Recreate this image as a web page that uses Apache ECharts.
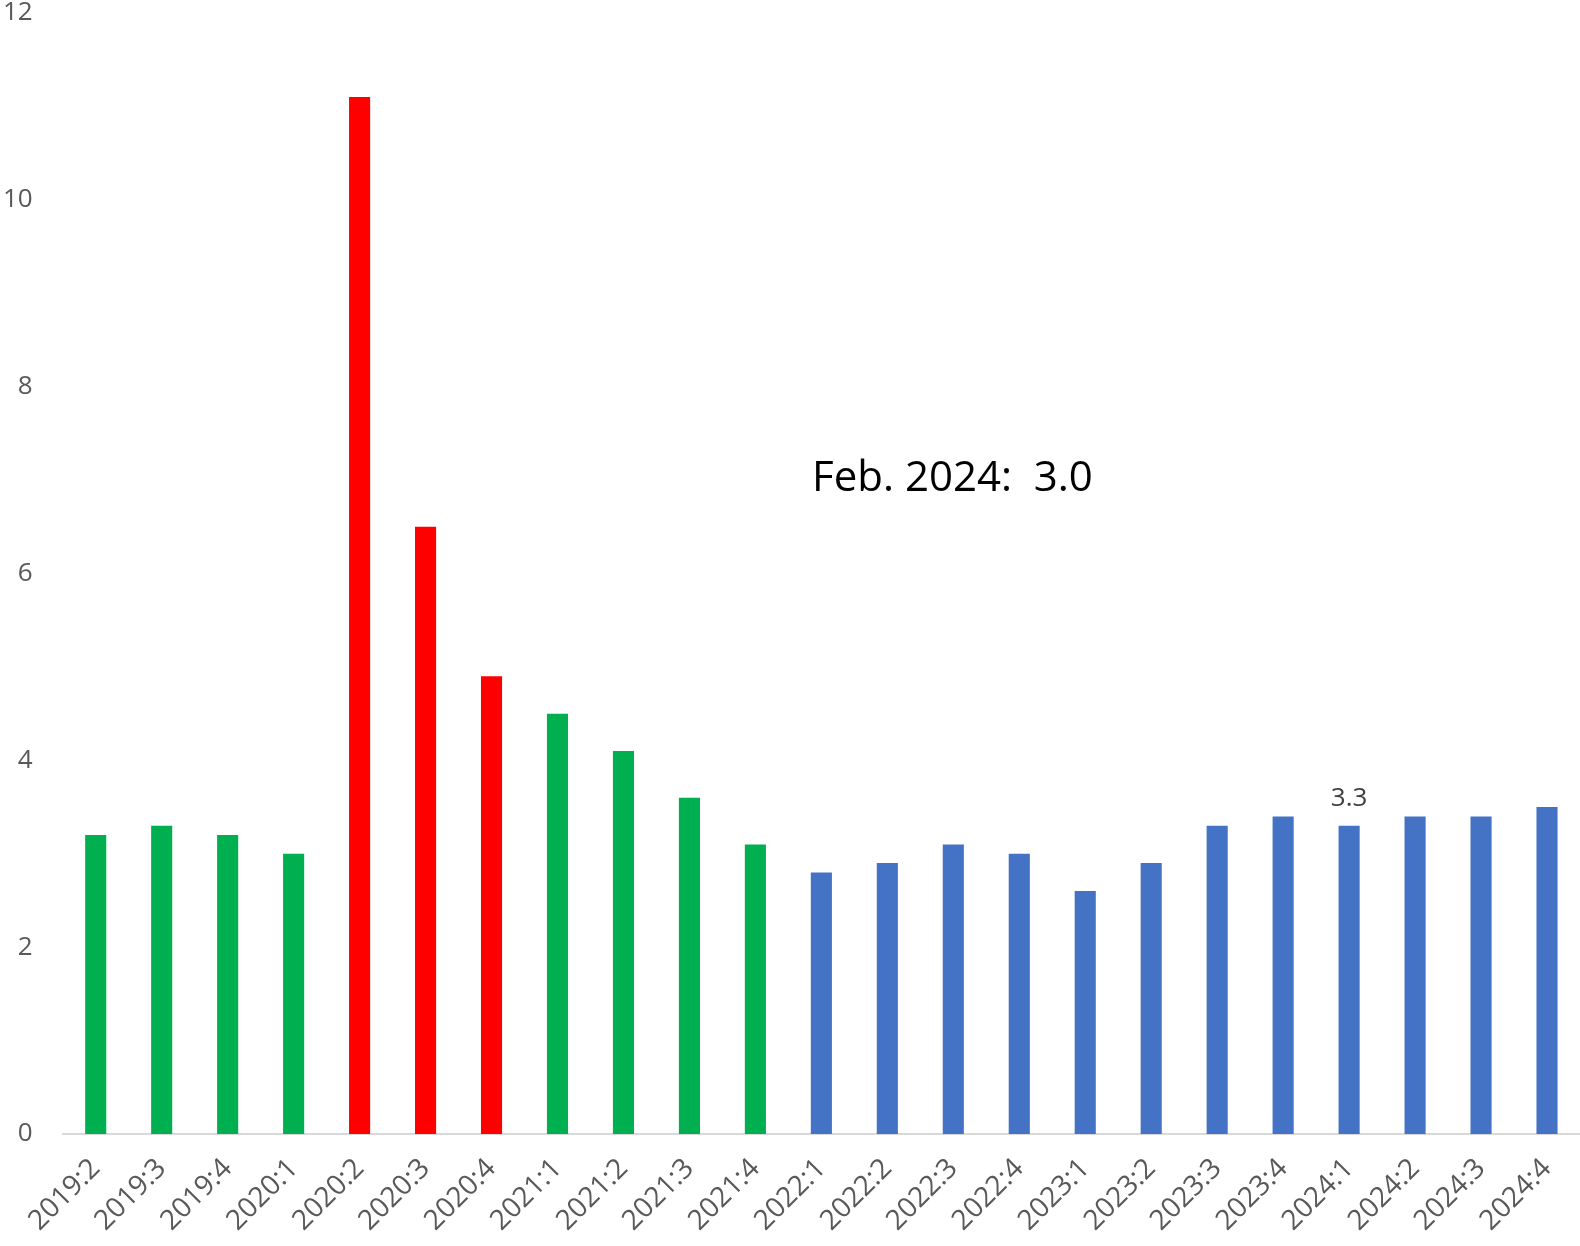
<!DOCTYPE html>
<html>
<head>
<meta charset="utf-8">
<script src="https://cdn.jsdelivr.net/npm/echarts@6/dist/echarts.min.js"></script>
<style>
html,body{margin:0;padding:0;background:#fff;}
#chart{width:1580px;height:1246px;}
</style>
</head>
<body>
<div id="chart"></div>
<script>
const categories = ['2019:2','2019:3','2019:4','2020:1','2020:2','2020:3','2020:4','2021:1','2021:2','2021:3','2021:4','2022:1','2022:2','2022:3','2022:4','2023:1','2023:2','2023:3','2023:4','2024:1','2024:2','2024:3','2024:4'];
const values = [3.2,3.3,3.2,3.0,11.1,6.5,4.9,4.5,4.1,3.6,3.1,2.8,2.9,3.1,3.0,2.6,2.9,3.3,3.4,3.3,3.4,3.4,3.5];
const phases = ['pre','pre','pre','pre','covid','covid','covid','post','post','post','post','recent','recent','recent','recent','recent','recent','recent','recent','recent','recent','recent','recent'];
const labeledCategory = '2024:1';
const annotationText = 'Feb. 2024:  3.0';
const yTicks = [0,2,4,6,8,10,12];

const phaseColors = {pre:'#00B050', covid:'#FF0000', post:'#00B050', recent:'#4472C4'};
const FONT = 'Open Sans';

const chart = echarts.init(document.getElementById('chart'));
chart.setOption({
  animation:false,
  backgroundColor:'#ffffff',
  grid:{left:60, width:1523, top:13, bottom:112},
  xAxis:{
    type:'category', data:categories,
    axisLine:{lineStyle:{color:'#D9D9D9', width:2}},
    axisTick:{show:false},
    axisLabel:{rotate:45, color:'#595959', fontFamily:FONT, fontSize:28, margin:30, interval:0}
  },
  yAxis:{
    type:'value', min:yTicks[0], max:yTicks[yTicks.length-1], interval:2,
    axisLine:{show:false}, axisTick:{show:false}, splitLine:{show:false},
    axisLabel:{color:'#595959', fontFamily:FONT, fontSize:26, margin:30}
  },
  series:[{
    type:'bar', barWidth:'32%',
    data: values.map((v,i)=>({
      value:v,
      itemStyle:{color:phaseColors[phases[i]]},
      label: categories[i]===labeledCategory ? {show:true, position:'top', distance:14, color:'#404040', fontFamily:FONT, fontSize:26, formatter:(p)=>p.value.toFixed(1)} : {show:false}
    }))
  }],
  graphic:[{
    type:'text', left:812, top:458,
    style:{text:annotationText, font:'42px "Open Sans"', fill:'#000000'}
  }]
});
</script>
</body>
</html>
